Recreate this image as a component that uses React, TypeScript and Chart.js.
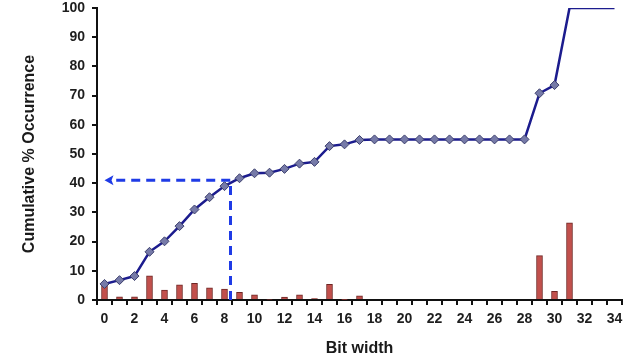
import React, { useEffect, useRef } from "react";
import { Chart, registerables } from "chart.js";

Chart.register(...registerables);

const bitWidths: string[] = Array.from({ length: 35 }, (_, i) => String(i));

const occurrence: number[] = [
  5.6, 1.1, 1.1, 8.3, 3.4, 5.2, 5.7, 4.2, 3.7, 2.6, 1.8, 0.3, 1.0, 1.8, 0.5, 5.4, 0.2, 1.4,
  0, 0, 0, 0, 0, 0, 0, 0, 0, 0, 0, 15.2, 3.0, 26.4, 0, 0, 0,
];

const cumulative: number[] = [
  5.5, 6.8, 8.2, 16.5, 20.1, 25.3, 31.0, 35.2, 39.0, 41.7, 43.4, 43.6, 44.9, 46.7, 47.3, 52.7,
  53.3, 54.8, 55.0, 55.0, 55.0, 55.0, 55.0, 55.0, 55.0, 55.0, 55.0, 55.0, 55.0, 70.8, 73.6,
  100, 100, 100, 100,
];

const markerCount = 31; // markers drawn on points 0..30

const arrowTipX = 0;
const arrowCornerX = 8.4;
const arrowLevelY = 41;

const yTicks = { min: 0, max: 100, step: 10 };

const FONT = "'Liberation Sans', Arial, sans-serif";

const arrowPlugin = {
  id: "arrowPlugin",
  afterDatasetsDraw(chart: any) {
    const { ctx, scales } = chart;
    const x = scales.x;
    const y = scales.y;
    const tipX = x.getPixelForValue(arrowTipX);
    const cornerX = x.getPixelForValue(arrowCornerX);
    const levelY = y.getPixelForValue(arrowLevelY);
    const baseY = y.getPixelForValue(0);
    ctx.save();
    ctx.strokeStyle = "#1f3be6";
    ctx.fillStyle = "#1f3be6";
    ctx.lineWidth = 3;
    ctx.setLineDash([9, 6]);
    ctx.beginPath();
    ctx.moveTo(cornerX, baseY);
    ctx.lineTo(cornerX, levelY);
    ctx.lineTo(tipX + 8, levelY);
    ctx.stroke();
    ctx.setLineDash([]);
    ctx.beginPath();
    ctx.moveTo(tipX, levelY);
    ctx.lineTo(tipX + 9, levelY - 5);
    ctx.lineTo(tipX + 7, levelY);
    ctx.lineTo(tipX + 9, levelY + 5);
    ctx.closePath();
    ctx.fill();
    ctx.restore();
  },
};

export default function App() {
  const ref = useRef<HTMLCanvasElement | null>(null);

  useEffect(() => {
    if (!ref.current) return;
    const chart = new Chart(ref.current, {
      type: "bar",
      data: {
        labels: bitWidths,
        datasets: [
          {
            type: "line",
            label: "Cumulative",
            data: cumulative,
            borderColor: "#1c1c8e",
            borderWidth: 2.5,
            backgroundColor: "#767aa8",
            pointStyle: "rectRot",
            pointRadius: cumulative.map((_, i) => (i < markerCount ? 4.5 : 0)),
            pointBackgroundColor: "#767aa8",
            pointBorderColor: "#3c3f6c",
            pointBorderWidth: 1,
            tension: 0,
            order: 0,
          } as any,
          {
            type: "bar",
            label: "Occurrence",
            data: occurrence,
            backgroundColor: "#c2504c",
            borderColor: "#6e2624",
            borderWidth: 1,
            barThickness: 6,
            order: 1,
          } as any,
        ],
      },
      options: {
        responsive: false,
        animation: false,
        layout: { padding: { top: 0, right: 17, left: 0, bottom: 0 } },
        plugins: {
          legend: { display: false },
          tooltip: { enabled: false },
        },
        scales: {
          x: {
            type: "category",
            offset: true,
            grid: {
              offset: true,
              drawOnChartArea: false,
              drawTicks: true,
              tickLength: 5,
              color: "#111",
              lineWidth: 2,
            },
            border: { display: true, color: "#111", width: 2 },
            ticks: {
              autoSkip: false,
              maxRotation: 0,
              padding: 6,
              color: "#1e1e1e",
              font: { family: FONT, size: 14, weight: "bold" },
              callback: (_v: any, i: number) => (i % 2 === 0 ? bitWidths[i] : ""),
            },
            title: {
              display: true,
              text: "Bit width",
              color: "#1a1a1a",
              font: { family: FONT, size: 16, weight: "bold" },
              padding: { top: 0, bottom: 4 },
            },
            afterFit: (s: any) => {
              s.height = 62;
            },
          },
          y: {
            min: yTicks.min,
            max: yTicks.max,
            grid: {
              drawOnChartArea: false,
              drawTicks: true,
              tickLength: 5,
              color: "#111",
              lineWidth: 2,
            },
            border: { display: true, color: "#111", width: 2 },
            ticks: {
              stepSize: yTicks.step,
              padding: 7,
              color: "#1e1e1e",
              font: { family: FONT, size: 14, weight: "bold" },
            },
            title: {
              display: true,
              text: "Cumulative % Occurrence",
              color: "#1a1a1a",
              font: { family: FONT, size: 16, weight: "bold" },
              padding: { top: 20, bottom: 0 },
            },
            afterFit: (s: any) => {
              s.width = 97;
              s.paddingTop = 8;
              s.paddingBottom = 0;
            },
          },
        },
      },
      plugins: [arrowPlugin],
    });
    return () => chart.destroy();
  }, []);

  return (
    <div style={{ position: "fixed", left: 0, top: 0, width: 639, height: 362, background: "#fff" }}>
      <canvas ref={ref} width={639} height={362} style={{ display: "block" }} />
    </div>
  );
}
